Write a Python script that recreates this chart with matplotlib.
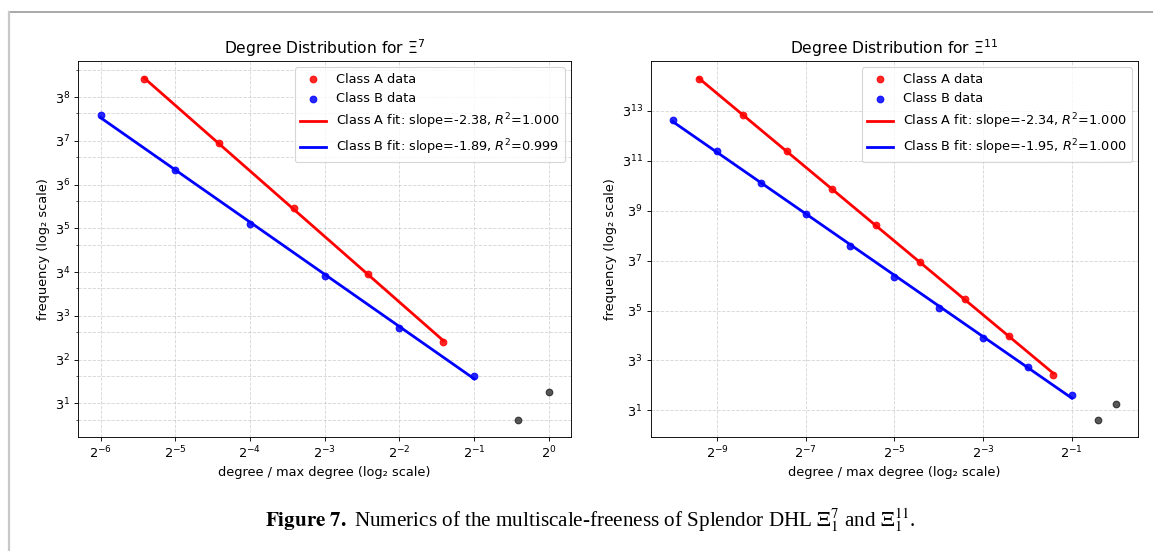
import numpy as np
import matplotlib
matplotlib.use("Agg")
import matplotlib.pyplot as plt
from matplotlib.lines import Line2D

# ---- data
# Xi^7
a7_x = [3/128, 3/64, 3/32, 3/16, 3/8]
a7_y = [10300, 2060, 404, 78, 14]
b7_x = [1/64, 1/32, 1/16, 1/8, 1/4, 1/2]
b7_y = [4155, 1054, 272, 73, 20, 6]
g7_x = [3/4, 1]
g7_y = [2, 4]
# Xi^11
a11_x = [3/2048, 3/1024, 3/512, 3/256, 3/128, 3/64, 3/32, 3/16, 3/8]
a11_y = [6.4e6, 1.307e6, 2.66e5, 52100, 10350, 2055, 410, 79, 14]
b11_x = [1/1024, 1/512, 1/256, 1/128, 1/64, 1/32, 1/16, 1/8, 1/4, 1/2]
b11_y = [1.07e6, 2.66e5, 66600, 16800, 4233, 1071, 271, 72.4, 20.2, 6]
g11_x = [3/4, 1]
g11_y = [2, 4]

titles = [r"Degree Distribution for $\Xi^{7}$", r"Degree Distribution for $\Xi^{11}$"]
slopes_a = ["-2.38", "-2.34"]
slopes_b = ["-1.89", "-1.95"]
r2_a = ["1.000", "1.000"]
r2_b = ["0.999", "1.000"]

plt.rcParams["font.size"] = 11.6

fig = plt.figure(figsize=(1153/80, 551/80), dpi=80)
W, H = 1153, 551
ax1 = fig.add_axes([78.1/W, 1-436.7/H, 493.3/W, 375.7/H])
ax2 = fig.add_axes([650.5/W, 1-436.7/H, 487.9/W, 375.7/H])

sets = [(ax1, a7_x, a7_y, b7_x, b7_y, g7_x, g7_y),
        (ax2, a11_x, a11_y, b11_x, b11_y, g11_x, g11_y)]

for i, (ax, ax_, ay_, bx_, by_, gx_, gy_) in enumerate(sets):
    ax.scatter(ax_, ay_, color="red", alpha=0.85, label="Class A data", zorder=3)
    ax.scatter(bx_, by_, color="blue", alpha=0.85, label="Class B data", zorder=3)
    ax.scatter(gx_, gy_, color="black", alpha=0.65, zorder=3)

    # fits in log space
    pa = np.polyfit(np.log(ax_), np.log(ay_), 1)
    pb = np.polyfit(np.log(bx_), np.log(by_), 1)
    xa = np.array([min(ax_), max(ax_)])
    xb = np.array([min(bx_), max(bx_)])
    ax.plot(xa, np.exp(np.polyval(pa, np.log(xa))), color="red", lw=2.5,
            label="Class A fit: slope=%s, $R^2$=%s" % (slopes_a[i], r2_a[i]))
    ax.plot(xb, np.exp(np.polyval(pb, np.log(xb))), color="blue", lw=2.5,
            label="Class B fit: slope=%s, $R^2$=%s" % (slopes_b[i], r2_b[i]))

    ax.set_xscale("log", base=2)
    ax.set_yscale("log", base=3)
    ax.grid(True, which="both", linestyle="--", alpha=0.5)
    ax.set_title(titles[i])
    ax.set_xlabel("degree / max degree (log\u2082 scale)")
    ax.set_ylabel("frequency (log\u2082 scale)")
    ax.legend(loc="upper right")

# ---- frame lines of the page
fig.add_artist(Line2D([9/W, 1], [1-11.7/H, 1-11.7/H], color="#999999", lw=1.5))
fig.add_artist(Line2D([9/W, 9/W], [0, 1-11.7/H], color="#c8c8c8", lw=2))

# ---- caption (one text, bold part through mathtext)
fig.text(265/W, 1 - 527/H,
         r"$\mathbf{Figure\ 7.}$ Numerics of the multiscale-freeness of Splendor DHL "
         r"$\Xi_1^7$ and $\Xi_1^{11}$.",
         family="Liberation Serif", fontsize=19, va="baseline", math_fontfamily="stix")

fig.savefig("out.png", dpi=80)
